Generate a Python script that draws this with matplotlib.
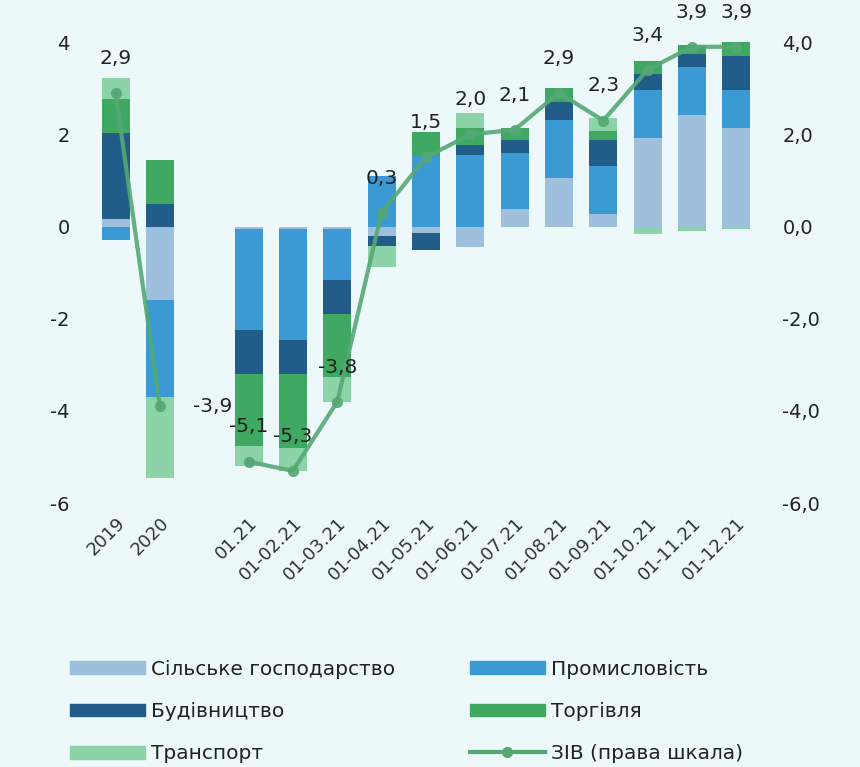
import numpy as np
import matplotlib
matplotlib.use('Agg')
import matplotlib.pyplot as plt
from matplotlib.patches import Patch
from matplotlib.lines import Line2D

plt.rcParams['font.family'] = ['DejaVu Sans']

categories = ['2019', '2020', '01.21', '01-02.21', '01-03.21', '01-04.21', '01-05.21',
              '01-06.21', '01-07.21', '01-08.21', '01-09.21', '01-10.21', '01-11.21', '01-12.21']

agriculture = [0.17, -1.6, -0.05, -0.05, -0.05, -0.2, -0.15, -0.44, 0.38, 1.06, 0.27, 1.92, 2.42, 2.14]
industry = [-0.29, -2.1, -2.2, -2.4, -1.1, 1.1, 1.53, 1.56, 1.22, 1.26, 1.04, 1.04, 1.04, 0.82]
construction = [1.85, 0.5, -0.95, -0.75, -0.74, -0.22, -0.35, 0.22, 0.28, 0.39, 0.57, 0.36, 0.29, 0.75]
trade = [0.75, 0.95, -1.55, -1.6, -1.38, 0.0, 0.53, 0.35, 0.25, 0.3, 0.2, 0.28, 0.18, 0.29]
transport = [0.45, -1.75, -0.45, -0.5, -0.54, -0.45, 0.0, 0.33, 0.0, 0.0, 0.27, -0.16, -0.1, -0.05]
gva = [2.9, -3.9, -5.1, -5.3, -3.8, 0.3, 1.5, 2.0, 2.1, 2.9, 2.3, 3.4, 3.9, 3.9]

series = [
    ('Сільське господарство', agriculture, '#9fc0dc'),
    ('Промисловість', industry, '#3b9ad3'),
    ('Будівництво', construction, '#225d8a'),
    ('Торгівля', trade, '#3fa863'),
    ('Транспорт', transport, '#8dd3a8'),
]
line_color = '#55a874'
bg = '#ecf8fa'
txt = '#222222'

n = len(categories)
# annual bars, one empty slot, then monthly cumulative bars
x = np.arange(n) + (np.arange(n) >= 2)

fig = plt.figure(figsize=(8.6, 7.67), dpi=100, facecolor=bg)
ax = fig.add_axes([0.1035, 0.344, 0.7835, 0.601], facecolor=bg)

pos_base = np.zeros(n)
neg_base = np.zeros(n)
for name, vals, col in series:
    v = np.array(vals)
    base = np.where(v >= 0, pos_base, neg_base)
    ax.bar(x, v, bottom=base, width=0.63, color=col, edgecolor='none', zorder=2)
    pos_base += np.where(v >= 0, v, 0)
    neg_base += np.where(v < 0, v, 0)

ax.set_xlim(-0.6, x[-1] + 0.6)
ax.set_ylim(-6, 4)
ax.set_yticks([-6, -4, -2, 0, 2, 4])
ax.set_yticklabels(['-6', '-4', '-2', '0', '2', '4'], fontsize=14, color=txt)
ax.set_xticks(x)
ax.set_xticklabels(categories, rotation=45, ha='right', rotation_mode='anchor',
                   fontsize=13, color='#333333')
ax.tick_params(axis='both', length=0)
ax.tick_params(axis='y', pad=14)
ax.tick_params(axis='x', pad=8)
for s in ax.spines.values():
    s.set_visible(False)

ax2 = ax.twinx()
ax2.set_ylim(-6, 4)
ax2.set_yticks([-6, -4, -2, 0, 2, 4])
ax2.set_yticklabels(['-6,0', '-4,0', '-2,0', '0,0', '2,0', '4,0'], fontsize=14, color=txt)
ax2.tick_params(axis='y', length=0, pad=14)
for s in ax2.spines.values():
    s.set_visible(False)

gva_arr = np.array(gva)
ax2.plot(x[:2], gva_arr[:2], color=line_color, lw=3, marker='o', ms=7, alpha=0.9, zorder=3)
ax2.plot(x[2:], gva_arr[2:], color=line_color, lw=3, marker='o', ms=7, alpha=0.9, zorder=3)

for i, (xi, v) in enumerate(zip(x, gva)):
    label = f'{v:.1f}'.replace('.', ',')
    offset = (38, 0) if i == 1 else (0, 25)
    ax2.annotate(label, (xi, v), xytext=offset, textcoords='offset points',
                 ha='center', va='center', fontsize=14.5, color=txt, zorder=4)

handles = [Patch(color=series[0][2]), Patch(color=series[2][2]), Patch(color=series[4][2]),
           Patch(color=series[1][2]), Patch(color=series[3][2]),
           Line2D([], [], color=line_color, lw=3, marker='o', ms=7)]
labels = [series[0][0], series[2][0], series[4][0], series[1][0], series[3][0], 'ЗІВ (права шкала)']
fig.legend(handles, labels, loc='upper left', bbox_to_anchor=(0.065, 0.158), ncol=2,
           frameon=False, fontsize=14.5, handlelength=3.7, handleheight=0.6,
           labelspacing=1.15, columnspacing=3.75, handletextpad=0.3, borderpad=0.2,
           labelcolor=txt)

fig.savefig('out.png', dpi=100, facecolor=bg)
